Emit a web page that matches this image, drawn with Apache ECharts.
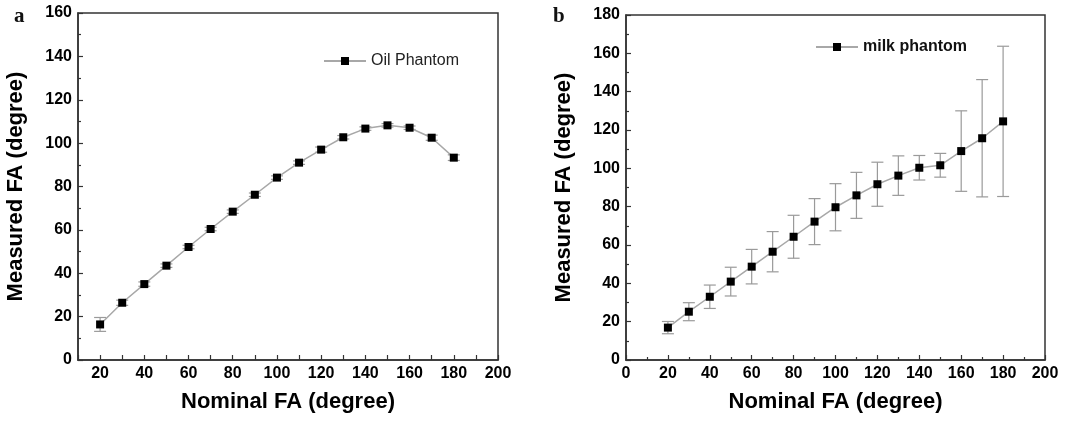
<!DOCTYPE html>
<html>
<head>
<meta charset="utf-8">
<script src="https://cdn.jsdelivr.net/npm/echarts@6/dist/echarts.min.js"></script>
<style>
  html, body { margin: 0; padding: 0; background: #fff; }
  #main { width: 1079px; height: 423px; }
</style>
</head>
<body>
<div id="main"></div>
<script>
// nominal flip angles (x)
var nominalFA = [20, 30, 40, 50, 60, 70, 80, 90, 100, 110, 120, 130, 140, 150, 160, 170, 180];

// panel a - oil phantom
var oilMeasured = [16.4, 26.4, 35.0, 43.5, 52.1, 60.4, 68.4, 76.2, 84.1, 91.0, 97.0, 102.7, 106.7, 108.2, 107.1, 102.5, 93.3];
var oilError = [3.2, 1.2, 1.0, 0.8, 0.8, 0.8, 0.8, 0.8, 0.8, 0.8, 1.2, 0.8, 0.8, 0.8, 0.8, 1.2, 1.3];

// panel b - milk phantom
var milkMeasured = [16.9, 25.2, 33.0, 40.9, 48.7, 56.5, 64.3, 72.2, 79.7, 85.9, 91.7, 96.2, 100.3, 101.6, 109.0, 115.7, 124.5];
var milkError = [3.2, 4.7, 6.1, 7.5, 9.0, 10.5, 11.2, 12.0, 12.3, 12.0, 11.5, 10.3, 6.4, 6.2, 21.0, 30.6, 39.2];

var fontSans = '"Liberation Sans", Arial, sans-serif';

function points(ys) {
    return nominalFA.map(function (x, i) { return [x, ys[i]]; });
}
function errRange(ys, es) {
    return nominalFA.map(function (x, i) { return [x, ys[i] - es[i], ys[i] + es[i]]; });
}

function renderErrorBar(params, api) {
    var lo = api.coord([api.value(0), api.value(1)]);
    var hi = api.coord([api.value(0), api.value(2)]);
    var half = 6;
    var style = { stroke: '#9a9a9a', lineWidth: 1.2 };
    return {
        type: 'group',
        children: [
            { type: 'line', shape: { x1: lo[0], y1: lo[1], x2: hi[0], y2: hi[1] }, style: style },
            { type: 'line', shape: { x1: lo[0] - half, y1: lo[1], x2: lo[0] + half, y2: lo[1] }, style: style },
            { type: 'line', shape: { x1: hi[0] - half, y1: hi[1], x2: hi[0] + half, y2: hi[1] }, style: style }
        ]
    };
}

function axisCommon() {
    return {
        axisLine: { show: true, lineStyle: { color: '#333', width: 1.5 } },
        axisTick: { show: true, inside: true, length: 5, lineStyle: { color: '#333', width: 1.2 } },
        minorTick: { show: true, splitNumber: 2, length: 3, lineStyle: { color: '#333', width: 1.2 } },
        splitLine: { show: false },
        axisLabel: { color: '#000', fontSize: 16, fontWeight: 'bold', fontFamily: fontSans, margin: 6 },
        nameTextStyle: { color: '#000', fontSize: 22, fontWeight: 'bold', fontFamily: fontSans },
        nameLocation: 'middle'
    };
}

var xA = axisCommon();
Object.assign(xA, {
    type: 'value', gridIndex: 0, min: 10, max: 200, interval: 10,
    name: 'Nominal FA (degree)', nameGap: 31,
    minorTick: { show: false }
});
xA.axisLabel = Object.assign({}, xA.axisLabel, {
    formatter: function (v) { return (v % 20 === 0) ? String(v) : ''; }
});

var yA = axisCommon();
Object.assign(yA, {
    type: 'value', gridIndex: 0, min: 0, max: 160, interval: 20,
    name: 'Measured FA (degree)', nameGap: 51
});

var xB = axisCommon();
Object.assign(xB, {
    type: 'value', gridIndex: 1, min: 0, max: 200, interval: 20,
    name: 'Nominal FA (degree)', nameGap: 31
});

var yB = axisCommon();
Object.assign(yB, {
    type: 'value', gridIndex: 1, min: 0, max: 180, interval: 20,
    name: 'Measured FA (degree)', nameGap: 51
});

var chart = echarts.init(document.getElementById('main'), null, { renderer: 'canvas' });

var option = {
    backgroundColor: '#fff',
    animation: false,
    title: [
        { text: 'a', left: 9, top: 1, textStyle: { fontFamily: '"Liberation Serif", serif', fontSize: 21, fontWeight: 'bold', color: '#111' } },
        { text: 'b', left: 548, top: 1, textStyle: { fontFamily: '"Liberation Serif", serif', fontSize: 21, fontWeight: 'bold', color: '#111' } }
    ],
    grid: [
        { left: 78, right: 581, top: 13, bottom: 63, show: true, borderColor: '#333', borderWidth: 1.5 },
        { left: 626, right: 34, top: 15, bottom: 63, show: true, borderColor: '#333', borderWidth: 1.5 }
    ],
    legend: [
        {
            data: ['Oil Phantom'], left: 318, top: 48, itemWidth: 42, itemHeight: 10,
            textStyle: { fontSize: 16, fontFamily: fontSans, color: '#222' }
        },
        {
            data: ['milk phantom'], left: 810, top: 34, itemWidth: 42, itemHeight: 10,
            textStyle: { fontSize: 16, fontFamily: fontSans, fontWeight: 'bold', color: '#111' }
        }
    ],
    xAxis: [xA, xB],
    yAxis: [yA, yB],
    series: [
        {
            type: 'custom', xAxisIndex: 0, yAxisIndex: 0,
            renderItem: renderErrorBar, data: errRange(oilMeasured, oilError),
            encode: { x: 0, y: [1, 2] }, z: 1
        },
        {
            name: 'Oil Phantom', type: 'line', xAxisIndex: 0, yAxisIndex: 0,
            data: points(oilMeasured), symbol: 'rect', symbolSize: 8,
            itemStyle: { color: '#000' }, lineStyle: { color: '#a8a8a8', width: 1.5 }, z: 3
        },
        {
            type: 'custom', xAxisIndex: 1, yAxisIndex: 1,
            renderItem: renderErrorBar, data: errRange(milkMeasured, milkError),
            encode: { x: 0, y: [1, 2] }, z: 1
        },
        {
            name: 'milk phantom', type: 'line', xAxisIndex: 1, yAxisIndex: 1,
            data: points(milkMeasured), symbol: 'rect', symbolSize: 8,
            itemStyle: { color: '#000' }, lineStyle: { color: '#a8a8a8', width: 1.5 }, z: 3
        }
    ]
};

chart.setOption(option);
</script>
</body>
</html>
